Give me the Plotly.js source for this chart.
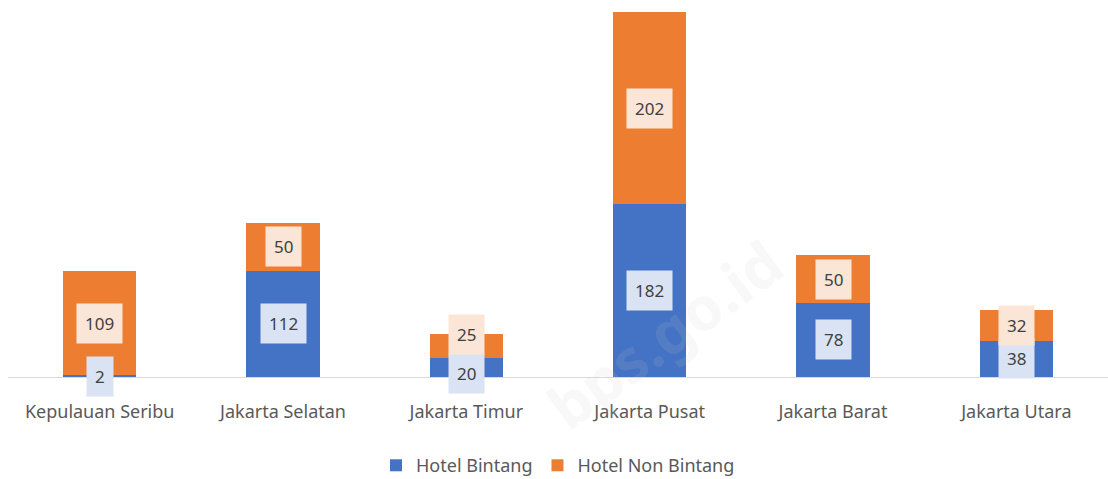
<!DOCTYPE html>
<html><head><meta charset="utf-8">
<script src="https://cdn.plot.ly/plotly-3.0.1.min.js"></script>
<style>html,body{margin:0;padding:0;background:#fff}#chart{width:1108px;height:479px}</style>
</head><body><div id="chart"></div>
<script>
const categories = ["Kepulauan Seribu","Jakarta Selatan","Jakarta Timur","Jakarta Pusat","Jakarta Barat","Jakarta Utara"];
const hotelBintang = [2,112,20,182,78,38];
const hotelNonBintang = [109,50,25,202,50,32];
const seriesNames = ["Hotel Bintang","Hotel Non Bintang"];

const blue = "#4472C4", orange = "#ED7D31";
const blueLabelBg = "#DAE3F3", orangeLabelBg = "#FBE5D6";
const FONT = "Noto Sans, sans-serif";

const traces = [
  {type:"bar", name:seriesNames[0], x:categories, y:hotelBintang, marker:{color:blue}, hoverinfo:"skip"},
  {type:"bar", name:seriesNames[1], x:categories, y:hotelNonBintang, marker:{color:orange}, hoverinfo:"skip"}
];

const shiftB = [0,0,-6,0,0,0];
const shiftN = [0,0,12,0,0,0];

const annotations = [];
annotations.push({x:0.597, y:0.118, xref:"paper", yref:"paper", xanchor:"center", yanchor:"middle",
  text:"<b>bps.go.id</b>", showarrow:false,
  textangle:-36, font:{family:FONT, size:60, color:"rgba(200,200,200,0.13)"}});
categories.forEach((c,i)=>{
  annotations.push({x:c, y:hotelBintang[i]/2, xref:"x", yref:"y", text:String(hotelBintang[i]),
    showarrow:false, bgcolor:blueLabelBg, borderpad:8, yshift:shiftB[i],
    font:{family:FONT, size:17, color:"#404040"}});
  annotations.push({x:c, y:hotelBintang[i]+hotelNonBintang[i]/2, xref:"x", yref:"y", text:String(hotelNonBintang[i]),
    showarrow:false, bgcolor:orangeLabelBg, borderpad:8, yshift:shiftN[i],
    font:{family:FONT, size:17, color:"#404040"}});
});

const layout = {
  width:1108, height:479,
  margin:{l:8, r:0, t:12, b:102},
  paper_bgcolor:"#fff", plot_bgcolor:"#fff",
  barmode:"stack", bargap:0.6,
  xaxis:{showline:true, linecolor:"#d9d9d9", linewidth:1, ticks:"", showgrid:false, zeroline:false,
    tickfont:{family:FONT, size:18, color:"#595959"}, ticklabelstandoff:18, fixedrange:true, automargin:false},
  yaxis:{range:[0,384], visible:false, showgrid:false, zeroline:false, fixedrange:true},
  showlegend:true,
  legend:{orientation:"h", x:0.5, xanchor:"center", xref:"paper", yref:"container", y:0.028, yanchor:"middle",
    font:{family:FONT, size:18, color:"#595959"}, traceorder:"normal", itemwidth:30},
  annotations:annotations
};
Plotly.newPlot("chart", traces, layout, {staticPlot:true, displayModeBar:false});
</script></body></html>
